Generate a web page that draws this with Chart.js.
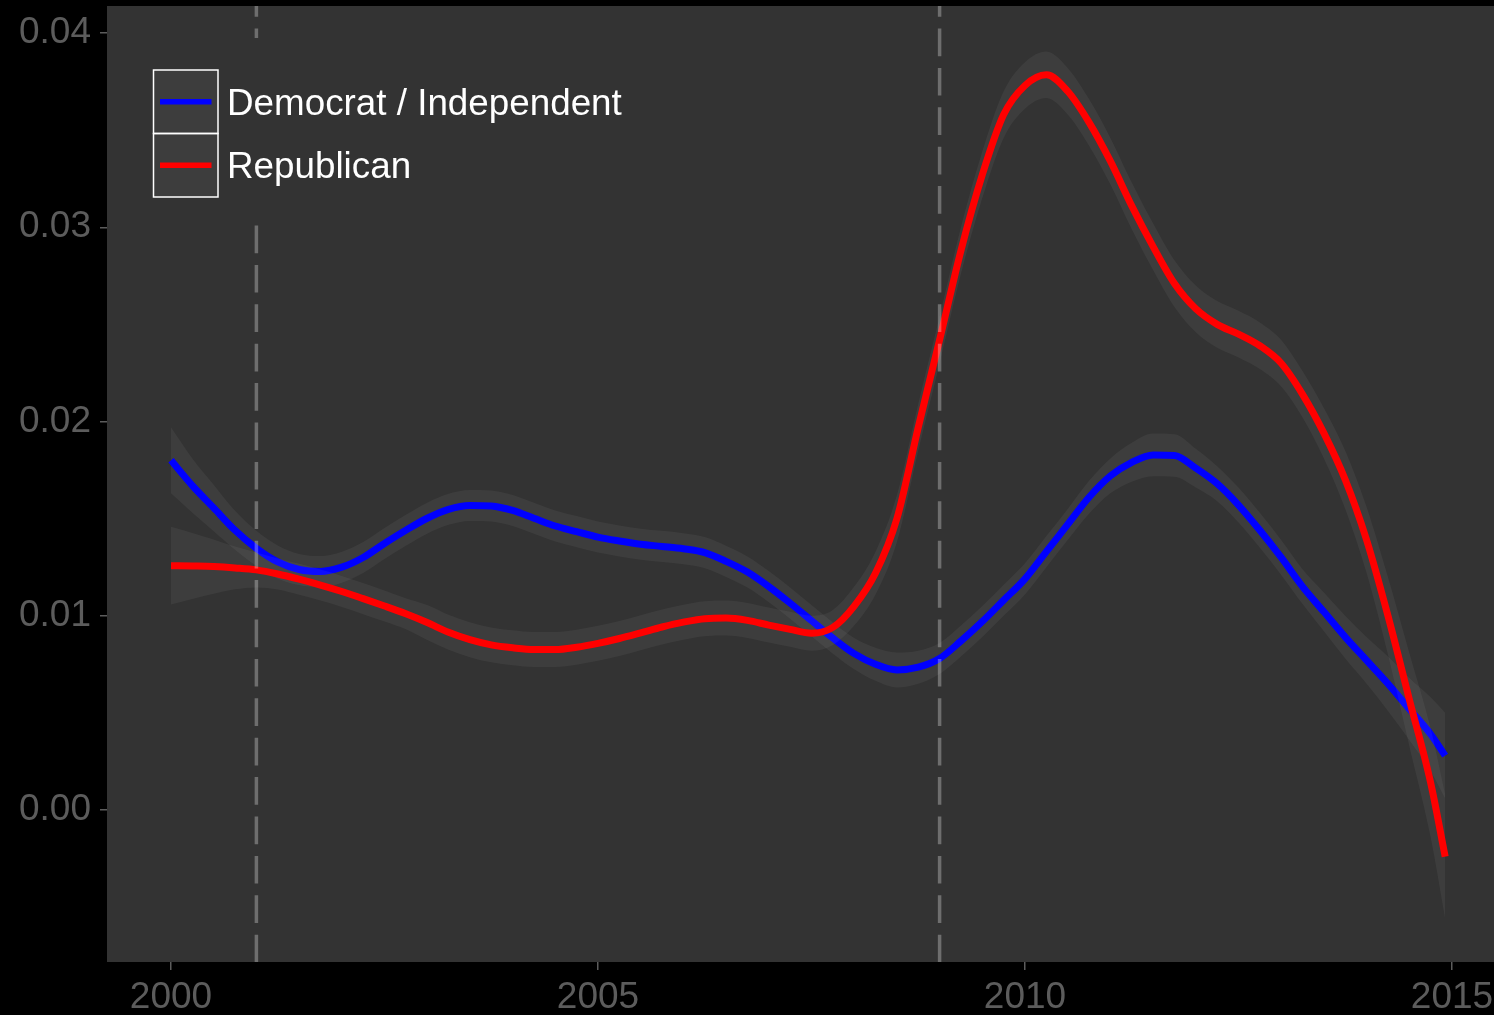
<!DOCTYPE html>
<html>
<head>
<meta charset="utf-8">
<script src="https://cdn.jsdelivr.net/npm/chart.js@4.4.1/dist/chart.umd.min.js"></script>
<style>
  html, body { margin: 0; padding: 0; background: #000; }
  #wrap { width: 1494px; height: 1015px; }
</style>
</head>
<body>
<div id="wrap"><canvas id="c" width="1494" height="1015"></canvas></div>
<script>
// ---------- data ----------
const years = [2000.00,2000.25,2000.50,2000.75,2001.00,2001.25,2001.50,2001.75,2002.00,2002.25,2002.50,2002.75,
  2003.00,2003.25,2003.50,2003.75,2004.00,2004.25,2004.50,2004.75,2005.00,2005.25,2005.50,2005.75,
  2006.00,2006.25,2006.50,2006.75,2007.00,2007.25,2007.50,2007.75,2008.00,2008.25,2008.50,2008.75,
  2009.00,2009.25,2009.50,2009.75,2010.00,2010.25,2010.50,2010.75,2011.00,2011.25,2011.50,2011.75,
  2012.00,2012.25,2012.50,2012.75,2013.00,2013.25,2013.50,2013.75,2014.00,2014.25,2014.50,2014.75,2014.92];

const demMid = [0.0180,0.0167,0.01555,0.0144,0.01347,0.01277,0.01238,0.01228,0.0125,0.0130,0.01372,0.0144,
  0.01502,0.01548,0.01568,0.01565,0.01542,0.01502,0.01462,0.01433,0.01405,0.01385,0.01368,0.01357,
  0.01345,0.01325,0.0128,0.01225,0.0115,0.01065,0.00975,0.00885,0.00805,0.0075,0.00721,0.00735,
  0.0078,0.0087,0.0097,0.0108,0.0119,0.0133,0.0147,0.0161,0.0172,0.0179,0.01828,0.01825,
  0.0176,0.0168,0.0157,0.0144,0.0130,0.0115,0.0102,0.0089,0.0077,0.0065,0.0052,0.0039,0.0028];

const demHalf = [0.0017,0.0014,0.0012,0.0010,0.0009,0.00085,0.0008,0.0008,0.0008,0.0008,0.0008,0.0008,
  0.0008,0.0008,0.0008,0.0008,0.0008,0.0008,0.0008,0.0008,0.0008,0.0008,0.0008,0.0008,
  0.0008,0.0008,0.0008,0.0008,0.0008,0.0008,0.0008,0.0008,0.0008,0.00085,0.0009,0.00085,
  0.0008,0.0008,0.0008,0.0008,0.0008,0.0008,0.0008,0.00085,0.0009,0.0010,0.0011,0.0011,
  0.0010,0.0009,0.0009,0.0009,0.0009,0.0009,0.0010,0.0011,0.0012,0.0014,0.0016,0.0019,0.0022];

const repMid = [0.01258,0.01256,0.01253,0.01246,0.01236,0.01215,0.01188,0.01158,0.01125,0.01088,0.0105,0.0101,
  0.00965,0.00915,0.00877,0.0085,0.00835,0.00826,0.00826,0.00838,0.00858,0.00883,0.00912,0.00942,
  0.00967,0.00985,0.00988,0.00976,0.00952,0.0093,0.0091,0.0094,0.0105,0.0122,0.0150,0.0197,
  0.0242,0.0288,0.0327,0.0358,0.0373,0.03785,0.0370,0.0354,0.0334,0.0311,0.0290,0.0271,
  0.0258,0.0250,0.0245,0.0239,0.0230,0.0214,0.0194,0.0170,0.0139,0.0100,0.0057,0.0014,-0.0024];

const repHalf = [0.0020,0.0017,0.0014,0.0011,0.0009,0.0008,0.0008,0.0008,0.0008,0.0008,0.0008,0.0008,
  0.0009,0.0009,0.0009,0.0009,0.0009,0.0009,0.0009,0.0009,0.0009,0.0009,0.0009,0.0009,
  0.0009,0.0009,0.0009,0.0009,0.0009,0.0009,0.0009,0.0009,0.0010,0.0011,0.0012,0.0012,
  0.0012,0.0012,0.0012,0.0012,0.0012,0.0012,0.0012,0.0012,0.0012,0.0012,0.0012,0.0012,
  0.0012,0.0012,0.0012,0.0012,0.0012,0.0012,0.0013,0.0015,0.0017,0.0020,0.0024,0.0028,0.0032];

const seriesNames = ['Democrat / Independent', 'Republican'];
const seriesColors = ['#0000ff', '#ff0000'];
const xTicks = [2000, 2005, 2010, 2015];
const yTicks = [0.00, 0.01, 0.02, 0.03, 0.04];
const vLines = [2001, 2009];

// ---------- styles ----------
const PANEL = '#333333';
const BAND = 'rgba(255,255,255,0.05)';
const AXIS_GREY = '#5c5c5c';
const FONT = "'Liberation Sans', Arial, Helvetica, sans-serif";

const pts = (mid, half, sign) => mid.map((v, i) => ({ x: years[i], y: v + sign * half[i] }));

const bandStyle = {
  borderWidth: 0, borderColor: 'rgba(0,0,0,0)', pointRadius: 0,
  backgroundColor: BAND, cubicInterpolationMode: 'monotone'
};
const lineStyle = {
  borderWidth: 7, pointRadius: 0, fill: false,
  cubicInterpolationMode: 'monotone', borderJoinStyle: 'round'
};

const datasets = [
  Object.assign({ label: 'demHigh', data: pts(demMid, demHalf, 1), fill: '+1', order: 6 }, bandStyle),
  Object.assign({ label: 'demLow', data: pts(demMid, demHalf, -1), fill: false, order: 5 }, bandStyle),
  Object.assign({ label: seriesNames[0], data: demMid.map((v, i) => ({ x: years[i], y: v })),
    borderColor: seriesColors[0], order: 4 }, lineStyle),
  Object.assign({ label: 'repHigh', data: pts(repMid, repHalf, 1), fill: '+1', order: 3 }, bandStyle),
  Object.assign({ label: 'repLow', data: pts(repMid, repHalf, -1), fill: false, order: 2 }, bandStyle),
  Object.assign({ label: seriesNames[1], data: repMid.map((v, i) => ({ x: years[i], y: v })),
    borderColor: seriesColors[1], order: 1 }, lineStyle)
];

const backgroundPlugin = {
  id: 'bg',
  beforeDraw(chart) {
    const { ctx, chartArea: a } = chart;
    ctx.save();
    ctx.fillStyle = '#000';
    ctx.fillRect(0, 0, chart.width, chart.height);
    ctx.fillStyle = PANEL;
    ctx.fillRect(a.left, a.top, a.right - a.left, a.bottom - a.top);
    ctx.restore();
  }
};

const overlayPlugin = {
  id: 'overlay',
  afterDraw(chart) {
    const { ctx, chartArea: a } = chart;
    const xs = chart.scales.x;
    // dashed vertical reference lines
    ctx.save();
    ctx.beginPath();
    ctx.rect(a.left, a.top, a.right - a.left, a.bottom - a.top);
    ctx.clip();
    ctx.strokeStyle = 'rgba(255,255,255,0.29)';
    ctx.lineWidth = 3.5;
    ctx.setLineDash([27.7, 11.7]);
    ctx.lineDashOffset = 16.9;
    vLines.forEach(v => {
      const px = xs.getPixelForValue(v);
      ctx.beginPath();
      ctx.moveTo(px, a.top);
      ctx.lineTo(px, a.bottom);
      ctx.stroke();
    });
    ctx.restore();

    // legend
    ctx.save();
    ctx.fillStyle = PANEL;
    ctx.fillRect(121, 38, 530, 187);
    const keyX = 153.5, keyW = 64.5, keyH = 63.5, keyY0 = 70;
    seriesNames.forEach((name, i) => {
      const ky = keyY0 + i * keyH;
      ctx.fillStyle = BAND;
      ctx.fillRect(keyX, ky, keyW, keyH);
      ctx.strokeStyle = '#ffffff';
      ctx.lineWidth = 1.5;
      ctx.strokeRect(keyX, ky, keyW, keyH);
      const cy = ky + keyH / 2;
      ctx.strokeStyle = seriesColors[i];
      ctx.lineWidth = 5.5;
      ctx.beginPath();
      ctx.moveTo(keyX + 6.5, cy);
      ctx.lineTo(keyX + keyW - 6.5, cy);
      ctx.stroke();
      ctx.fillStyle = '#ffffff';
      ctx.font = '36.8px ' + FONT;
      ctx.textAlign = 'left';
      ctx.textBaseline = 'alphabetic';
      ctx.fillText(name, 227, cy + 13);
    });
    ctx.restore();
  }
};

new Chart(document.getElementById('c'), {
  type: 'line',
  data: { datasets },
  options: {
    responsive: false,
    animation: false,
    devicePixelRatio: 1,
    events: [],
    layout: { padding: { top: 6, left: 0, right: 0, bottom: 0 } },
    plugins: { legend: { display: false }, tooltip: { enabled: false } },
    scales: {
      x: {
        type: 'linear',
        min: 1999.2506,
        max: 2015.4918,
        afterBuildTicks: s => { s.ticks = xTicks.map(v => ({ value: v })); },
        afterFit: s => { s.height = 53; s.paddingLeft = 0; s.paddingRight = 0; },
        grid: { display: true, drawOnChartArea: false, drawTicks: true, tickLength: 8,
                color: AXIS_GREY, lineWidth: 1.5 },
        border: { display: false },
        ticks: { color: AXIS_GREY, font: { family: FONT, size: 37 }, padding: 6,
                 maxRotation: 0, autoSkip: false, callback: v => String(v) }
      },
      y: {
        type: 'linear',
        min: -0.007825,
        max: 0.04139,
        afterBuildTicks: s => { s.ticks = yTicks.map(v => ({ value: v })); },
        afterFit: s => { s.width = 107; s.paddingTop = 0; s.paddingBottom = 0; },
        grid: { display: true, drawOnChartArea: false, drawTicks: true, tickLength: 7,
                color: AXIS_GREY, lineWidth: 1.5 },
        border: { display: false },
        ticks: { color: AXIS_GREY, font: { family: FONT, size: 37 }, padding: 9,
                 autoSkip: false, callback: v => Number(v).toFixed(2) }
      }
    }
  },
  plugins: [backgroundPlugin, overlayPlugin]
});
</script>
</body>
</html>
